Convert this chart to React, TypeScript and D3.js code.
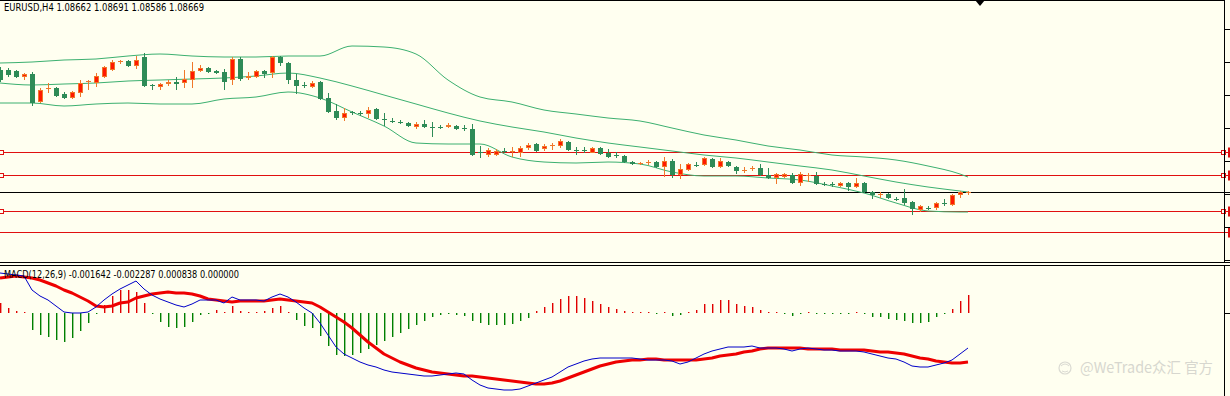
import React from "react";
import * as d3 from "d3";

const WIDTH = 1230;
const HEIGHT = 396;

// EURUSD H4 candles (oldest first)
const opens = [
  1.0990, 1.0990, 1.0989, 1.0983, 1.0986, 1.0958, 1.0971, 1.0972, 1.0966, 1.0962,
  1.0967, 1.0978, 1.0977, 1.0983, 1.0990, 1.0998, 1.0999, 1.0994, 1.1003, 1.0975,
  1.0973, 1.0976, 1.0978, 1.0977, 1.0980, 1.0989, 1.0992, 1.0989, 1.0988, 1.0980,
  1.1001, 1.0982, 1.0983, 1.0989, 1.0987, 1.1003, 1.0997, 1.0980, 1.0975, 1.0973,
  1.0978, 1.0962, 1.0949, 1.0942, 1.0948, 1.0947, 1.0946, 1.0951, 1.0941, 1.0939,
  1.0938, 1.0937, 1.0933, 1.0936, 1.0933, 1.0933, 1.0933, 1.0934, 1.0932, 1.0931,
  1.0908, 1.0905, 1.0905, 1.0909, 1.0908, 1.0907, 1.0912, 1.0916, 1.0911, 1.0914,
  1.0914, 1.0918, 1.0910, 1.0910, 1.0907, 1.0912, 1.0907, 1.0905, 1.0904, 1.0898,
  1.0896, 1.0897, 1.0898, 1.0893, 1.0899, 1.0885, 1.0890, 1.0895, 1.0895, 1.0901,
  1.0893, 1.0898, 1.0893, 1.0889, 1.0891, 1.0892, 1.0885, 1.0882, 1.0883, 1.0885,
  1.0877, 1.0884, 1.0884, 1.0876, 1.0876, 1.0874, 1.0877, 1.0873, 1.0877, 1.0868,
  1.0865, 1.0866, 1.0861, 1.0862, 1.0858, 1.0850, 1.0852, 1.0852, 1.0857, 1.0855,
  1.0865, 1.0867,
];
const highs = [
  1.0993, 1.0992, 1.0990, 1.0987, 1.0988, 1.0972, 1.0977, 1.0973, 1.0968, 1.0969,
  1.0980, 1.0980, 1.0987, 1.0994, 1.1000, 1.1000, 1.1000, 1.1004, 1.1007, 1.0976,
  1.0977, 1.0980, 1.0983, 1.0990, 1.0998, 1.0995, 1.0993, 1.0990, 1.0991, 1.1003,
  1.1003, 1.0988, 1.0990, 1.0990, 1.1004, 1.1004, 1.0998, 1.0986, 1.0978, 1.0979,
  1.0979, 1.0967, 1.0956, 1.0952, 1.0949, 1.0949, 1.0953, 1.0952, 1.0947, 1.0942,
  1.0940, 1.0938, 1.0938, 1.0940, 1.0938, 1.0935, 1.0937, 1.0935, 1.0935, 1.0936,
  1.0914, 1.0912, 1.0911, 1.0912, 1.0913, 1.0914, 1.0917, 1.0917, 1.0916, 1.0917,
  1.0921, 1.0919, 1.0913, 1.0913, 1.0913, 1.0913, 1.0911, 1.0908, 1.0905, 1.0899,
  1.0898, 1.0900, 1.0899, 1.0903, 1.0901, 1.0896, 1.0897, 1.0898, 1.0903, 1.0902,
  1.0902, 1.0899, 1.0894, 1.0893, 1.0894, 1.0896, 1.0892, 1.0887, 1.0887, 1.0887,
  1.0888, 1.0887, 1.0888, 1.0878, 1.0878, 1.0878, 1.0878, 1.0882, 1.0878, 1.0869,
  1.0868, 1.0867, 1.0863, 1.0871, 1.0859, 1.0855, 1.0854, 1.0858, 1.0861, 1.0866,
  1.0869, 1.0869,
];
const lows = [
  1.0978, 1.0983, 1.0982, 1.0980, 1.0954, 1.0957, 1.0967, 1.0963, 1.0961, 1.0961,
  1.0963, 1.0970, 1.0973, 1.0982, 1.0989, 1.0996, 1.0993, 1.0991, 1.0973, 1.0970,
  1.0970, 1.0974, 1.0970, 1.0972, 1.0972, 1.0988, 1.0987, 1.0986, 1.0970, 1.0975,
  1.0979, 1.0980, 1.0982, 1.0982, 1.0982, 1.0994, 1.0976, 1.0966, 1.0972, 1.0972,
  1.0960, 1.0947, 1.0940, 1.0939, 1.0945, 1.0944, 1.0942, 1.0940, 1.0934, 1.0937,
  1.0936, 1.0933, 1.0931, 1.0932, 1.0923, 1.0931, 1.0932, 1.0930, 1.0929, 1.0904,
  1.0902, 1.0903, 1.0904, 1.0907, 1.0903, 1.0903, 1.0910, 1.0908, 1.0909, 1.0910,
  1.0912, 1.0909, 1.0905, 1.0907, 1.0907, 1.0905, 1.0902, 1.0902, 1.0897, 1.0895,
  1.0895, 1.0895, 1.0892, 1.0883, 1.0882, 1.0881, 1.0889, 1.0893, 1.0894, 1.0892,
  1.0892, 1.0893, 1.0886, 1.0887, 1.0889, 1.0884, 1.0881, 1.0876, 1.0882, 1.0876,
  1.0874, 1.0878, 1.0875, 1.0874, 1.0873, 1.0873, 1.0869, 1.0872, 1.0867, 1.0861,
  1.0862, 1.0861, 1.0859, 1.0855, 1.0845, 1.0848, 1.0850, 1.0850, 1.0854, 1.0854,
  1.0862, 1.0865,
];
const closes = [
  1.0980, 1.0985, 1.0983, 1.0986, 1.0957, 1.0970, 1.0972, 1.0964, 1.0962, 1.0968,
  1.0977, 1.0979, 1.0984, 1.0993, 1.0998, 1.0999, 1.0994, 1.1000, 1.0974, 1.0974,
  1.0976, 1.0978, 1.0976, 1.0981, 1.0989, 1.0992, 1.0988, 1.0987, 1.0978, 1.1001,
  1.0981, 1.0984, 1.0989, 1.0986, 1.1003, 1.0997, 1.0980, 1.0974, 1.0974, 1.0977,
  1.0961, 1.0948, 1.0942, 1.0947, 1.0947, 1.0946, 1.0950, 1.0941, 1.0940, 1.0938,
  1.0937, 1.0934, 1.0936, 1.0933, 1.0932, 1.0932, 1.0935, 1.0931, 1.0931, 1.0905,
  1.0907, 1.0910, 1.0909, 1.0908, 1.0909, 1.0912, 1.0915, 1.0909, 1.0914, 1.0915,
  1.0919, 1.0910, 1.0909, 1.0909, 1.0912, 1.0906, 1.0903, 1.0904, 1.0898, 1.0896,
  1.0897, 1.0898, 1.0893, 1.0899, 1.0885, 1.0891, 1.0896, 1.0894, 1.0902, 1.0893,
  1.0899, 1.0894, 1.0889, 1.0890, 1.0892, 1.0885, 1.0882, 1.0886, 1.0886, 1.0877,
  1.0886, 1.0885, 1.0876, 1.0875, 1.0875, 1.0877, 1.0873, 1.0877, 1.0868, 1.0865,
  1.0866, 1.0862, 1.0860, 1.0857, 1.0851, 1.0854, 1.0851, 1.0857, 1.0856, 1.0865,
  1.0868, 1.0868,
];

// Bollinger bands, read every 4th bar
const bandIdx = [0, 4, 8, 12, 16, 20, 24, 28, 32, 36, 40, 44, 48, 52, 56, 60, 64, 68, 72, 76, 80, 84, 88, 92, 96, 100, 104, 108, 112, 116, 120, 121];
const bandUpper = [
  1.0997, 1.0998, 1.1000, 1.1001, 1.1004, 1.1006, 1.1004, 1.1003, 1.1003, 1.1004, 1.1004,
  1.1014, 1.1013, 1.1006, 1.0980, 1.0963, 1.0958, 1.0950, 1.0946, 1.0942, 1.0939, 1.0932,
  1.0925, 1.0920, 1.0914, 1.0910, 1.0905, 1.0903, 1.0900, 1.0894, 1.0886, 1.0883,
];
const bandMiddle = [
  1.0977, 1.0975, 1.0976, 1.0977, 1.0979, 1.0980, 1.0981, 1.0982, 1.0984, 1.0987, 1.0982,
  1.0974, 1.0965, 1.0956, 1.0947, 1.0939, 1.0933, 1.0928, 1.0922, 1.0917, 1.0913, 1.0909,
  1.0905, 1.0902, 1.0898, 1.0894, 1.0890, 1.0884, 1.0878, 1.0873, 1.0869, 1.0868,
];
const bandLower = [
  1.0957, 1.0957, 1.0954, 1.0956, 1.0957, 1.0956, 1.0956, 1.0961, 1.0963, 1.0968, 1.0962,
  1.0948, 1.0934, 1.0917, 1.0916, 1.0916, 1.0903, 1.0898, 1.0897, 1.0898, 1.0896, 1.0888,
  1.0884, 1.0884, 1.0882, 1.0880, 1.0874, 1.0867, 1.0857, 1.0849, 1.0848, 1.0848,
];

// MACD(12,26,9)
const macdMain = [
  0.0020, 0.00195, 0.0019, 0.00185, 0.00115, 0.00085, 0.00065, 0.00035, 0.00005, 0,
  0, 0.00005, 0.0003, 0.00065, 0.00095, 0.0012, 0.0014, 0.0016, 0.0012, 0.0009,
  0.0007, 0.00055, 0.0004, 0.0003, 0.00045, 0.00065, 0.00065, 0.00065, 0.0005, 0.0008,
  0.00065, 0.00065, 0.00065, 0.0006, 0.0008, 0.00095, 0.0008, 0.00055, 0.00025, 0,
  -0.0005, -0.0011, -0.0017, -0.00205, -0.00225, -0.00245, -0.0026, -0.0027, -0.00285, -0.00295,
  -0.003, -0.00305, -0.0031, -0.00315, -0.00315, -0.0031, -0.00305, -0.003, -0.00305, -0.00335,
  -0.0036, -0.00375, -0.0038, -0.00385, -0.00385, -0.0038, -0.00365, -0.0035, -0.00335, -0.0032,
  -0.00295, -0.0027, -0.00255, -0.0024, -0.0023, -0.00225, -0.00225, -0.00225, -0.00225, -0.00225,
  -0.0023, -0.00235, -0.00235, -0.00235, -0.0024, -0.00255, -0.00245, -0.00225, -0.00205, -0.0019,
  -0.0018, -0.0017, -0.0017, -0.0017, -0.00165, -0.00175, -0.00175, -0.00175, -0.0018, -0.0019,
  -0.0018, -0.00175, -0.0018, -0.00185, -0.00185, -0.0019, -0.0019, -0.0019, -0.00195, -0.00205,
  -0.00215, -0.00225, -0.0023, -0.00245, -0.00265, -0.0027, -0.0027, -0.0026, -0.0025, -0.00235,
  -0.00205, -0.00175,
];
const macdSignal = [
  0.00175, 0.0018, 0.00185, 0.0018, 0.00175, 0.00165, 0.0015, 0.00135, 0.00115, 0.001,
  0.0008, 0.0006, 0.00035, 0.0003, 0.00035, 0.0005, 0.00055, 0.00075, 0.00085, 0.00095,
  0.001, 0.00105, 0.001, 0.001, 0.00095, 0.00085, 0.0007, 0.00065, 0.0006, 0.00055,
  0.0006, 0.0006, 0.0006, 0.0006, 0.00065, 0.0007, 0.00065, 0.0006, 0.00055, 0.0005,
  0.0003, 0.00005, -0.0002, -0.00045, -0.00075, -0.0011, -0.00145, -0.00175, -0.00205, -0.00225,
  -0.00245, -0.0026, -0.00275, -0.00285, -0.00295, -0.003, -0.00305, -0.0031, -0.00315, -0.00315,
  -0.0032, -0.00325, -0.0033, -0.00335, -0.0034, -0.00345, -0.0035, -0.00355, -0.00355, -0.0035,
  -0.0034, -0.00325, -0.0031, -0.00295, -0.0028, -0.00265, -0.00255, -0.00245, -0.0024, -0.00235,
  -0.00235, -0.0023, -0.0023, -0.00235, -0.00235, -0.00235, -0.00235, -0.00235, -0.0023, -0.00225,
  -0.00215, -0.0021, -0.00205, -0.00195, -0.0019, -0.0018, -0.00175, -0.00175, -0.00175, -0.00175,
  -0.00175, -0.0018, -0.0018, -0.0018, -0.0018, -0.00185, -0.00185, -0.00185, -0.00185, -0.0019,
  -0.00195, -0.00195, -0.002, -0.00205, -0.00215, -0.00225, -0.0023, -0.0024, -0.00245, -0.0025,
  -0.0025, -0.00245,
];
const macdHist = [
  0.0005, 0.00025, 0.0001, 0.00005, -0.00085, -0.0011, -0.0012, -0.00135, -0.00145, -0.00125,
  -0.0009, -0.0005, -0.00002, 0.0004, 0.00085, 0.00115, 0.00115, 0.00105, 0.0005, -0.00002,
  -0.00045, -0.0007, -0.00075, -0.0007, -0.00045, -0.0001, -0.00002, 0.00015, 0.00002, 0.00035,
  0.0001, 0.00002, 0.00002, 0.0001, 0.00025, 0.00035, 0.00002, -0.00035, -0.00065, -0.00075,
  -0.00115, -0.00165, -0.0021, -0.00215, -0.0021, -0.002, -0.0018, -0.0016, -0.0014, -0.0012,
  -0.001, -0.0008, -0.0006, -0.0004, -0.0002, -0.0001, -0.00005, -0.0001, -0.00015, -0.0004,
  -0.0005, -0.0006, -0.0006, -0.0006, -0.00055, -0.0004, -0.00025, 0.0001, 0.0003, 0.0005,
  0.0007, 0.00085, 0.00085, 0.00075, 0.0006, 0.00045, 0.0003, 0.0002, 0.0001, 0.00005,
  0.00005, 0.00002, -0.00002, 0.00002, -0.00015, -0.0001, 0.00002, 0.00015, 0.00045, 0.00045,
  0.00065, 0.00065, 0.00045, 0.00035, 0.0003, 0.00015, 0.00002, 0.00002, -0.00002, -0.00015,
  -0.00002, 0.00002, -0.00002, -0.00002, -0.00002, -0.00002, -0.00002, 0, -0.00002, -0.0002,
  -0.0002, -0.0003, -0.00035, -0.0004, -0.0005, -0.0005, -0.00045, -0.0002, -0.00005, 0.0002,
  0.0006, 0.0009,
];

const levelPrices = [1.0908, 1.0885, 1.0849, 1.0828];
const levelMarked = [true, true, true, false];
const priceTicks = [1.1031, 1.0998, 1.0965, 1.0932, 1.0899, 1.0866, 1.0833, 1.08];
const macdTicks = [0.0024, 0];

const titleText = "EURUSD,H4  1.08662 1.08691 1.08586 1.08669";
const macdText = "MACD(12,26,9) -0.001642 -0.002287 0.000838 0.000000";
const watermark = "@WeTrade众汇 官方";

const BG = "#fffff0";
const BEAR = "#2e8b57";
const BULL_FILL = "#ff1a00";
const BULL_LINE = "#f0782a";
const BAND = "#3cb070";
const LEVEL = "#e01010";

export default function App() {
  const axisX = 1224.5;
  const x = d3.scaleLinear().domain([0, 121]).range([0, 968]);
  const yP = d3.scaleLinear().domain([1.106, 1.08]).range([0, 260]);
  const yM = d3.scaleLinear().domain([0.002, -0.004]).range([273, 393]);

  const bandLine = (vals: number[]) =>
    d3
      .line<number>()
      .x((_, k) => x(bandIdx[k]))
      .y((v) => yP(v))
      .curve(d3.curveMonotoneX)(vals) || "";

  const macdLine = d3
    .line<number>()
    .x((_, k) => x(k))
    .y((v) => yM(v));

  const font = "Tahoma, 'DejaVu Sans', sans-serif";
  const lastY = Math.round(yP(closes[closes.length - 1])) + 0.5;

  return (
    <svg
      width={WIDTH}
      height={HEIGHT}
      style={{ position: "absolute", left: 0, top: 0, display: "block" }}
    >
      <rect width={WIDTH} height={HEIGHT} fill={BG} />

      {/* level lines */}
      {levelPrices.map((p, k) => {
        const yy = Math.round(yP(p)) + 0.5;
        return (
          <g key={"lv" + k}>
            <line x1={0} x2={WIDTH} y1={yy} y2={yy} stroke={LEVEL} strokeWidth={1.2} />
            {levelMarked[k] && (
              <>
                <rect x={-1.5} y={yy - 2} width={5} height={4} fill={BG} stroke={LEVEL} strokeWidth={1} />
                <rect x={axisX - 3} y={yy - 2} width={4} height={4} fill={BG} stroke={LEVEL} strokeWidth={1} />
              </>
            )}
            <rect x={1228} y={yy - 5} width={2} height={10} fill={LEVEL} />
          </g>
        );
      })}

      {/* current price line */}
      <line x1={0} x2={WIDTH} y1={lastY} y2={lastY} stroke="#000" strokeWidth={1} />

      {/* bollinger bands */}
      {[bandUpper, bandMiddle, bandLower].map((b, k) => (
        <path key={"bb" + k} d={bandLine(b)} fill="none" stroke={BAND} strokeWidth={1} />
      ))}

      {/* candles */}
      {opens.map((o, i) => {
        const c = closes[i];
        const cx = Math.round(x(i));
        const bull = c >= o;
        const col = bull ? BULL_LINE : BEAR;
        const top = Math.round(yP(Math.max(o, c)));
        const bot = Math.round(yP(Math.min(o, c)));
        const doji = Math.abs(o - c) < 0.00015;
        return (
          <g key={"c" + i}>
            <line x1={cx + 0.5} x2={cx + 0.5} y1={yP(highs[i])} y2={yP(lows[i])} stroke={col} strokeWidth={1} />
            {doji ? (
              <line x1={cx - 2} x2={cx + 3} y1={top + 0.5} y2={top + 0.5} stroke={col} strokeWidth={1} />
            ) : bull ? (
              <rect x={cx - 1.5} y={top + 0.5} width={4} height={Math.max(bot - top - 1, 1)} fill={BULL_FILL} stroke={BULL_LINE} strokeWidth={1} />
            ) : (
              <rect x={cx - 2} y={top} width={5} height={Math.max(bot - top, 1)} fill={BEAR} />
            )}
          </g>
        );
      })}

      {/* shift marker */}
      <polygon points="975,0 985,0 980,6" fill="#000" />

      {/* main frame */}
      <line x1={0} x2={axisX} y1={0.5} y2={0.5} stroke="#000" />
      <line x1={axisX} x2={axisX} y1={0} y2={263} stroke="#000" />
      {priceTicks.map((t) => {
        const yy = Math.round(yP(t)) + 0.5;
        return <line key={"pt" + t} x1={axisX} x2={WIDTH} y1={yy} y2={yy} stroke="#000" />;
      })}
      <line x1={0} x2={WIDTH} y1={262.5} y2={262.5} stroke="#000" />
      <line x1={0} x2={WIDTH} y1={265.5} y2={265.5} stroke="#000" />

      <text x={4} y={11} fontFamily={font} fontSize={10.5} fill="#000" textLength={200} lengthAdjust="spacingAndGlyphs">
        {titleText}
      </text>

      {/* MACD histogram */}
      {macdHist.map((h, i) => {
        const cx = Math.round(x(i));
        const y0 = yM(0);
        const hgt = Math.max(Math.abs(yM(h) - y0), 1);
        return (
          <rect
            key={"h" + i}
            x={cx}
            y={h >= 0 ? y0 - hgt : y0}
            width={1.4}
            height={hgt}
            fill={h >= 0 ? "#e00000" : "#008000"}
          />
        );
      })}

      <path d={macdLine(macdSignal) || ""} fill="none" stroke="#ee0000" strokeWidth={3} strokeLinejoin="round" />
      <path d={macdLine(macdMain) || ""} fill="none" stroke="#0000c8" strokeWidth={1} />

      <line x1={axisX} x2={axisX} y1={265} y2={HEIGHT} stroke="#000" />
      {macdTicks.map((t) => {
        const yy = Math.round(yM(t)) + 0.5;
        return <line key={"mt" + t} x1={axisX} x2={WIDTH} y1={yy} y2={yy} stroke="#000" />;
      })}

      <text x={4} y={278} fontFamily={font} fontSize={10.5} fill="#000" textLength={235} lengthAdjust="spacingAndGlyphs">
        {macdText}
      </text>

      {/* watermark */}
      <g opacity={0.45}>
        <circle cx={1065} cy={368} r={6} fill="none" stroke="#b0b0b0" strokeWidth={1.2} />
        <path d="M1061,366 q4,-4 8,0 M1062,371 q3,2 6,0" fill="none" stroke="#b0b0b0" strokeWidth={1} />
        <text x={1080} y={373} fontFamily="'Noto Sans CJK SC', 'Noto Sans', sans-serif" fontSize={15} fill="#a8a8a8" textLength={133} lengthAdjust="spacingAndGlyphs">
          {watermark}
        </text>
      </g>
    </svg>
  );
}
